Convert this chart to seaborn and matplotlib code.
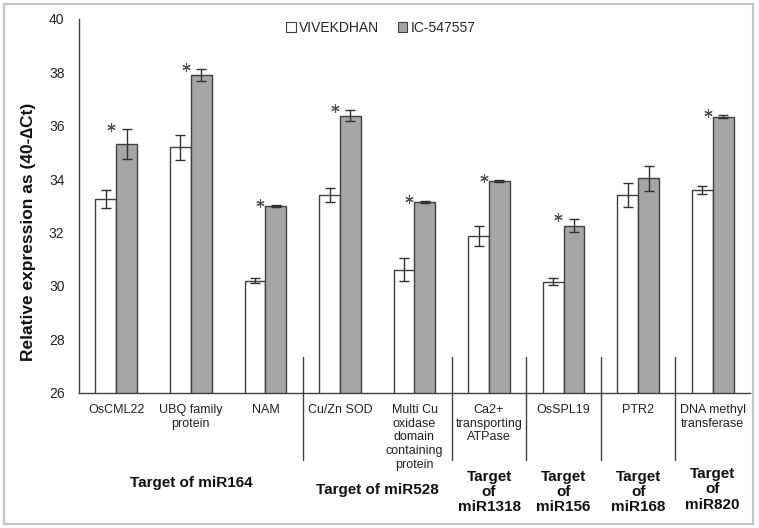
import matplotlib
matplotlib.use("Agg")
import matplotlib.pyplot as plt
import matplotlib.patches as mpatches
import seaborn as sns
import pandas as pd
import numpy as np

genes = ["OsCML22", "UBQ family\nprotein", "NAM", "Cu/Zn SOD",
         "Multi Cu\noxidase\ndomain\ncontaining\nprotein",
         "Ca2+\ntransporting\nATPase", "OsSPL19", "PTR2",
         "DNA methyl\ntransferase"]
series = ["VIVEKDHAN", "IC-547557"]
viv_vals = [33.25, 35.2, 30.2, 33.41, 30.61, 31.86, 30.16, 33.42, 33.6]
viv_err = [0.33, 0.47, 0.08, 0.27, 0.43, 0.37, 0.14, 0.45, 0.16]
ic_vals = [35.32, 37.9, 33.0, 36.38, 33.15, 33.94, 32.26, 34.03, 36.34]
ic_err = [0.56, 0.22, 0.04, 0.2, 0.03, 0.04, 0.24, 0.47, 0.05]
significant = [True, True, True, True, True, True, True, False, True]
group_labels = ["Target of miR164", "Target of miR528", "Target\nof\nmiR1318",
                "Target\nof\nmiR156", "Target\nof\nmiR168", "Target\nof\nmiR820"]
group_spans = [(0, 2), (3, 4), (5, 5), (6, 6), (7, 7), (8, 8)]
yticks = [26, 28, 30, 32, 34, 36, 38, 40]

sns.set_theme(style="white")
plt.rcParams['font.family'] = ['Liberation Sans', 'DejaVu Sans']

df = pd.DataFrame({
    "gene": genes * 2,
    "series": [series[0]] * len(genes) + [series[1]] * len(genes),
    "value": viv_vals + ic_vals,
})

W, H = 759, 528
fig = plt.figure(figsize=(W / 100, H / 100), dpi=100)
ax = fig.add_axes([79 / W, 1 - 392.7 / H, (750 - 79) / W, (392.7 - 19) / H])

edge = "#404040"
sns.barplot(data=df, x="gene", y="value", hue="series", order=genes,
            hue_order=series, palette=["white", "#a6a6a6"], width=0.56,
            edgecolor=edge, linewidth=1.0, errorbar=None, ax=ax, legend=False)

x = np.arange(len(genes))
bw = 0.28
ax.errorbar(x - bw / 2, viv_vals, yerr=viv_err, fmt="none", ecolor="#303030",
            elinewidth=1.0, capsize=3.4, capthick=1.0, zorder=5)
ax.errorbar(x + bw / 2, ic_vals, yerr=ic_err, fmt="none", ecolor="#303030",
            elinewidth=1.0, capsize=3.4, capthick=1.0, zorder=5)

sx = [xi - 0.07 for xi, s in zip(x, significant) if s]
sy = [v + e + 0.08 for v, e, s in zip(ic_vals, ic_err, significant) if s]
ax.plot(sx, sy, linestyle="none", marker=(6, 2, 0), markersize=6,
        markeredgewidth=0.8, color="#505050", zorder=6)

ax.set_ylim(26, 40)
ax.set_xlim(-0.5, len(genes) - 0.5)
ax.set_yticks(yticks)
ax.set_yticklabels([str(t) for t in yticks], fontsize=10)
ax.set_xticks(x)
ax.set_xticklabels(genes, fontsize=9, linespacing=1.2)
ax.set_xticks(np.arange(0.5, len(genes), 1.0), minor=True)
ax.tick_params(axis="x", which="major", length=0, pad=8, colors="#222222")
ax.tick_params(axis="x", which="minor", direction="inout", length=8,
               width=1, color="#404040")
ax.tick_params(axis="y", direction="inout", length=7, width=1,
               color="#404040", pad=7, labelcolor="#222222")
for lab in ax.get_xticklabels():
    lab.set_ha("center")
    lab.set_va("top")
ax.set_xlabel("")
ax.set_ylabel("")
for s in ["top", "right"]:
    ax.spines[s].set_visible(False)
for s in ["left", "bottom"]:
    ax.spines[s].set_color("#404040")
    ax.spines[s].set_linewidth(1.0)

# separator lines between target groups
for (a, b) in group_spans[1:]:
    ax.plot([a - 0.5, a - 0.5], [23.48, 27.34], color="#404040", lw=1.0,
            clip_on=False)

# group labels
gl_y = [22.62, 22.36, 22.28, 22.28, 22.28, 22.38]
for (a, b), lab, yy in zip(group_spans, group_labels, gl_y):
    ax.text((a + b) / 2, yy, lab, ha="center", va="center", fontsize=11,
            fontweight="bold", linespacing=1.12, color="#111111")

fig.text(29 / W, 1 - 232 / H, "Relative expression as (40-\u2206Ct)",
         rotation=90, ha="center", va="center", fontsize=12.5,
         fontweight="bold", color="#111111")

handles = [mpatches.Patch(facecolor="white", edgecolor=edge, lw=0.8),
           mpatches.Patch(facecolor="#a6a6a6", edgecolor=edge, lw=0.8)]
fig.legend(handles, series, loc="center", bbox_to_anchor=(381 / W, 1 - 27.7 / H),
           ncol=2, frameon=False, fontsize=10, handlelength=0.7,
           handleheight=0.7, handletextpad=0.25, columnspacing=1.3)

fig.patches.append(mpatches.Rectangle((3.5 / W, 1 - 523.5 / H),
                                      (752.5 - 3.5) / W, (523.5 - 3.5) / H,
                                      transform=fig.transFigure, fill=False,
                                      edgecolor="#c4c4c4", lw=1.5))

fig.savefig("out.png", dpi=100)
